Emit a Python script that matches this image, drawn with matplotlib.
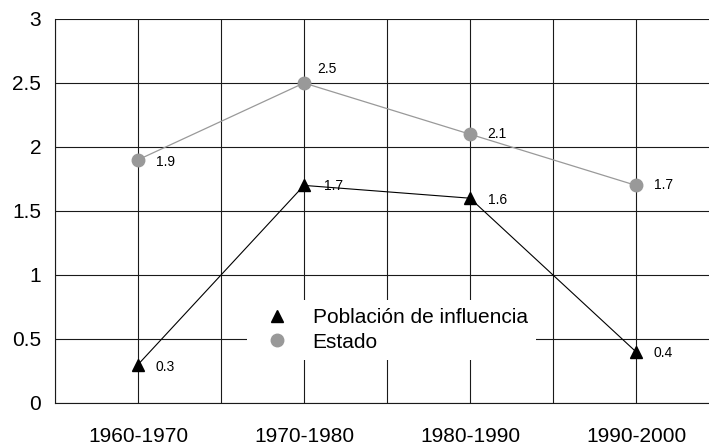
import matplotlib.pyplot as plt
from matplotlib.lines import Line2D
from matplotlib.ticker import MultipleLocator

plt.rcParams['font.family'] = ['Liberation Sans', 'DejaVu Sans']

# Data
periodos = ['1960-1970', '1970-1980', '1980-1990', '1990-2000']
poblacion = [0.3, 1.7, 1.6, 0.4]
estado = [1.9, 2.5, 2.1, 1.7]

# label offsets in pixels (x, y)
off_pob = [(17, -2), (20, -1), (18, -2), (18, -1)]
off_est = [(18, -2), (13, 14), (17, 0), (18, 0)]

x = list(range(1, len(periodos) + 1))

fig = plt.figure(figsize=(7.09, 4.46), dpi=100)
ax = fig.add_axes([55 / 709, 43 / 446, 664 / 709, 384 / 446])

ax.set_xlim(0.5, 4.5)
ax.set_ylim(0, 3)
ax.xaxis.set_minor_locator(MultipleLocator(0.5))
ax.set_xticks(x)
ax.set_xticklabels(periodos)
ax.set_yticks([0, 0.5, 1, 1.5, 2, 2.5, 3])
ax.set_yticklabels(['0', '0.5', '1', '1.5', '2', '2.5', '3'])

ax.grid(True, which='both', color='#1a1a1a', linewidth=0.8)
ax.set_axisbelow(True)
for s in ['top', 'right']:
    ax.spines[s].set_visible(False)
ax.spines['left'].set_color('#1a1a1a')
ax.spines['bottom'].set_color('#1a1a1a')
ax.spines['left'].set_linewidth(0.8)
ax.spines['bottom'].set_linewidth(0.8)
ax.tick_params(axis='both', which='both', length=0, labelsize=15)
ax.tick_params(axis='x', pad=17)
ax.tick_params(axis='y', pad=10)

ax.plot(x, estado, color='#999999', linewidth=0.9, marker='o', markersize=9,
        markerfacecolor='#999999', markeredgecolor='#999999', zorder=3)
ax.plot(x, poblacion, color='black', linewidth=0.8, marker='^', markersize=8.5,
        markerfacecolor='black', markeredgecolor='black', zorder=4)

for xi, v, o in zip(x, estado, off_est):
    ax.annotate(str(v), (xi, v), xytext=o, textcoords='offset pixels',
                ha='left', va='center', fontsize=10)
for xi, v, o in zip(x, poblacion, off_pob):
    ax.annotate(str(v), (xi, v), xytext=o, textcoords='offset pixels',
                ha='left', va='center', fontsize=10)

handles = [
    Line2D([], [], linestyle='none', marker='^', markersize=8.5, color='black'),
    Line2D([], [], linestyle='none', marker='o', markersize=9, color='#999999'),
]
leg = ax.legend(handles, ['Población de influencia', 'Estado'],
                loc='upper left', bbox_to_anchor=(0.289, 0.268),
                fontsize=15, frameon=True, fancybox=False,
                borderpad=0.4, labelspacing=0.25, handlelength=2.1,
                handletextpad=0.65, borderaxespad=0)
leg.get_frame().set_facecolor('white')
leg.get_frame().set_edgecolor('none')
leg.get_frame().set_alpha(1)

fig.savefig('out.png', dpi=100)
